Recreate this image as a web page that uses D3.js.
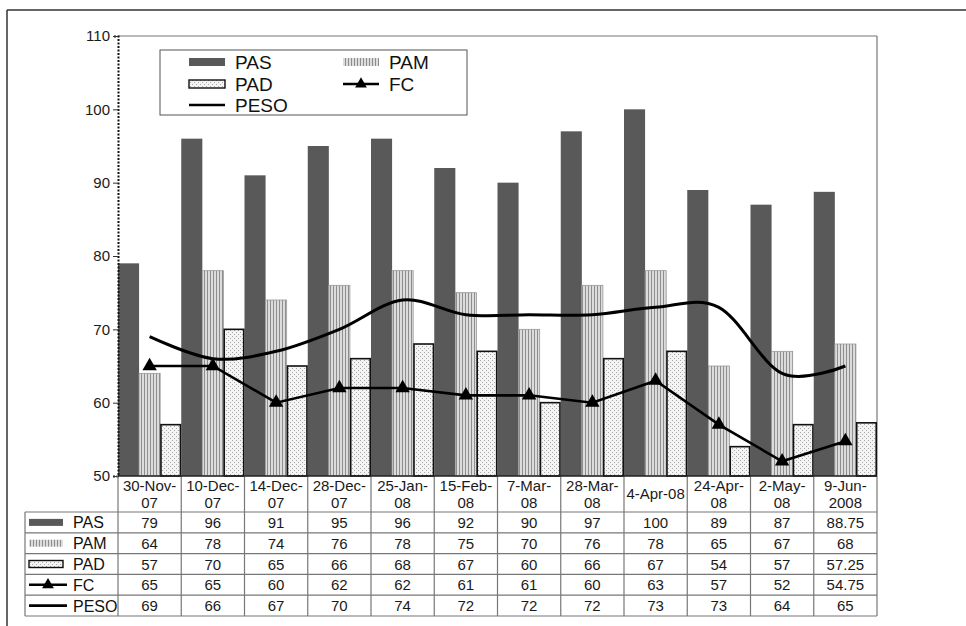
<!DOCTYPE html>
<html>
<head>
<meta charset="utf-8">
<script src="https://cdn.jsdelivr.net/npm/d3@7"></script>
<style>
  body { margin: 0; background: #fff; }
  svg { display: block; font-family: "Liberation Sans", Arial, sans-serif; }
</style>
</head>
<body>
<svg id="chart" width="966" height="626"></svg>
<script>
const categories = ["30-Nov-07","10-Dec-07","14-Dec-07","28-Dec-07","25-Jan-08","15-Feb-08","7-Mar-08","28-Mar-08","4-Apr-08","24-Apr-08","2-May-08","9-Jun-2008"];
const categoryLabels = [["30-Nov-","07"],["10-Dec-","07"],["14-Dec-","07"],["28-Dec-","07"],["25-Jan-","08"],["15-Feb-","08"],["7-Mar-","08"],["28-Mar-","08"],["4-Apr-08"],["24-Apr-","08"],["2-May-","08"],["9-Jun-","2008"]];
const PAS  = [79, 96, 91, 95, 96, 92, 90, 97, 100, 89, 87, 88.75];
const PAM  = [64, 78, 74, 76, 78, 75, 70, 76, 78, 65, 67, 68];
const PAD  = [57, 70, 65, 66, 68, 67, 60, 66, 67, 54, 57, 57.25];
const FC   = [65, 65, 60, 62, 62, 61, 61, 60, 63, 57, 52, 54.75];
const PESO = [69, 66, 67, 70, 74, 72, 72, 72, 73, 73, 64, 65];
const yTicks = [50, 60, 70, 80, 90, 100, 110];
const barSeries = ["PAS", "PAM", "PAD"];
const tableRows = ["PAS", "PAM", "PAD", "FC", "PESO"];
const seriesData = { PAS, PAM, PAD, FC, PESO };

const svg = d3.select("#chart");
const defs = svg.append("defs");

// patterns
const pamPat = defs.append("pattern").attr("id", "pamPat").attr("patternUnits", "userSpaceOnUse")
  .attr("width", 3).attr("height", 3);
pamPat.append("rect").attr("width", 3).attr("height", 3).attr("fill", "#dcdcdc");
pamPat.append("rect").attr("width", 1).attr("height", 3).attr("fill", "#8e8e8e");

const padPat = defs.append("pattern").attr("id", "padPat").attr("patternUnits", "userSpaceOnUse")
  .attr("width", 4).attr("height", 4);
padPat.append("rect").attr("width", 4).attr("height", 4).attr("fill", "#f4f4f4");
padPat.append("rect").attr("x", 0).attr("y", 0).attr("width", 1).attr("height", 1).attr("fill", "#a8a8a8");
padPat.append("rect").attr("x", 2).attr("y", 2).attr("width", 1).attr("height", 1).attr("fill", "#a8a8a8");

const fills = { PAS: "#595959", PAM: "url(#pamPat)", PAD: "url(#padPat)" };
const strokes = { PAS: "none", PAM: "#999", PAD: "#111" };
const strokeW = { PAS: 0, PAM: 0.8, PAD: 1.6 };

// outer frame
svg.append("line").attr("x1", 7).attr("x2", 966).attr("y1", 10).attr("y2", 10).attr("stroke", "#333").attr("stroke-width", 1.5);
svg.append("line").attr("x1", 7).attr("x2", 7).attr("y1", 10).attr("y2", 626).attr("stroke", "#333").attr("stroke-width", 1.5);

const pLeft = 118, pRight = 877, pTop = 36, pBottom = 476;
const x = d3.scaleBand().domain(categories).range([pLeft, pRight]).paddingInner(0).paddingOuter(0);
const xs = d3.scaleBand().domain(barSeries).range([0, x.bandwidth()]).padding(0);
const y = d3.scaleLinear().domain([50, 110]).range([pBottom, pTop]);

// plot border (top/right)
svg.append("line").attr("x1", pLeft).attr("x2", pRight).attr("y1", pTop).attr("y2", pTop).attr("stroke", "#777").attr("stroke-width", 1);
svg.append("line").attr("x1", pRight).attr("x2", pRight).attr("y1", pTop).attr("y2", pBottom).attr("stroke", "#777").attr("stroke-width", 1.2);

// bars
barSeries.forEach(s => {
  svg.append("g").selectAll("rect").data(seriesData[s]).join("rect")
    .attr("x", (d, i) => x(categories[i]) + xs(s) + (s === "PAD" ? 0.8 : 0))
    .attr("width", xs.bandwidth() - (s === "PAD" ? 1.6 : 0))
    .attr("y", d => y(d))
    .attr("height", d => pBottom - y(d))
    .attr("fill", fills[s])
    .attr("stroke", strokes[s])
    .attr("stroke-width", strokeW[s]);
});

// y axis
const yAxis = d3.axisLeft(y).tickValues(yTicks).tickSize(5).tickPadding(3);
const gy = svg.append("g").attr("transform", `translate(${pLeft},0)`).call(yAxis);
gy.select(".domain").attr("stroke", "#111").attr("stroke-width", 2).attr("stroke-dasharray", "2,1.5");
gy.selectAll(".tick line").attr("stroke", "#333");
gy.selectAll(".tick text").attr("font-size", 15).attr("fill", "#1a1a1a")
  .attr("font-family", "Liberation Sans, Arial, sans-serif");

// lines
const cx = i => x(categories[i]) + x.bandwidth() / 2;
const pesoLine = d3.line().x((d, i) => cx(i)).y(d => y(d)).curve(d3.curveCatmullRom.alpha(0));
svg.append("path").datum(PESO).attr("d", pesoLine).attr("fill", "none").attr("stroke", "#000").attr("stroke-width", 3);

const fcLine = d3.line().x((d, i) => cx(i)).y(d => y(d));
svg.append("path").datum(FC).attr("d", fcLine).attr("fill", "none").attr("stroke", "#000").attr("stroke-width", 2.6);
const tri = d3.symbol().type(d3.symbolTriangle).size(90);
svg.append("g").selectAll("path").data(FC).join("path")
  .attr("d", tri).attr("transform", (d, i) => `translate(${cx(i)},${y(d)})`).attr("fill", "#000");

// legend
const lg = svg.append("g");
lg.append("rect").attr("x", 160).attr("y", 50).attr("width", 307).attr("height", 65)
  .attr("fill", "#fff").attr("stroke", "#555").attr("stroke-width", 1);
function swatch(g, s, x0, yc, w, h) {
  if (s === "FC") {
    g.append("line").attr("x1", x0).attr("x2", x0 + w).attr("y1", yc).attr("y2", yc).attr("stroke", "#000").attr("stroke-width", 2.4);
    g.append("path").attr("d", d3.symbol().type(d3.symbolTriangle).size(60)).attr("transform", `translate(${x0 + w / 2},${yc})`).attr("fill", "#000");
  } else if (s === "PESO") {
    g.append("line").attr("x1", x0).attr("x2", x0 + w).attr("y1", yc).attr("y2", yc).attr("stroke", "#000").attr("stroke-width", 2.6);
  } else {
    g.append("rect").attr("x", x0).attr("y", yc - h / 2).attr("width", w).attr("height", h)
      .attr("fill", fills[s]).attr("stroke", s === "PAD" ? "#111" : "none").attr("stroke-width", 1.4);
  }
}
const legendItems = [
  { s: "PAS", x: 189, y: 62 }, { s: "PAM", x: 343, y: 62 },
  { s: "PAD", x: 189, y: 84 }, { s: "FC", x: 343, y: 84 },
  { s: "PESO", x: 189, y: 105 }
];
legendItems.forEach(it => {
  swatch(lg, it.s, it.x, it.y, 36, 8);
  lg.append("text").attr("x", it.x + 46).attr("y", it.y + 7).attr("font-size", 19).attr("fill", "#111").text(it.s);
});

// data table
const tableLeft = 25, rowTop = 512, rowH = 20.8;
const grid = svg.append("g").attr("stroke", "#777").attr("stroke-width", 1.2);
categories.forEach((c, i) => {
  grid.append("line").attr("x1", x(c)).attr("x2", x(c)).attr("y1", pBottom).attr("y2", rowTop + rowH * 5);
});
grid.append("line").attr("x1", pRight).attr("x2", pRight).attr("y1", pBottom).attr("y2", rowTop + rowH * 5);
grid.append("line").attr("x1", tableLeft).attr("x2", tableLeft).attr("y1", rowTop).attr("y2", rowTop + rowH * 5);
grid.append("line").attr("x1", pLeft).attr("x2", pRight).attr("y1", pBottom).attr("y2", pBottom).attr("stroke", "#222").attr("stroke-width", 1.5);
for (let r = 0; r <= 5; r++) {
  grid.append("line").attr("x1", tableLeft).attr("x2", pRight).attr("y1", rowTop + r * rowH).attr("y2", rowTop + r * rowH);
}

// category labels
categories.forEach((c, i) => {
  const lines = categoryLabels[i];
  const t = svg.append("text").attr("x", cx(i)).attr("text-anchor", "middle").attr("font-size", 15).attr("fill", "#1a1a1a");
  if (lines.length === 2) {
    t.append("tspan").attr("x", cx(i)).attr("y", 491).text(lines[0]);
    t.append("tspan").attr("x", cx(i)).attr("y", 508).text(lines[1]);
  } else {
    t.append("tspan").attr("x", cx(i)).attr("y", 499).text(lines[0]);
  }
});

// rows
tableRows.forEach((s, r) => {
  const yc = rowTop + r * rowH + rowH / 2;
  const g = svg.append("g");
  swatch(g, s, 29, yc, s === "PESO" || s === "FC" ? 38 : 34, 7);
  g.append("text").attr("x", 73).attr("y", yc + 6).attr("font-size", 16).attr("fill", "#111").text(s);
  g.selectAll("text.v").data(seriesData[s]).join("text").attr("class", "v")
    .attr("x", (d, i) => cx(i)).attr("y", yc + 5.5).attr("text-anchor", "middle")
    .attr("font-size", 15).attr("fill", "#1a1a1a").text(d => String(d));
});
</script>
</body>
</html>
